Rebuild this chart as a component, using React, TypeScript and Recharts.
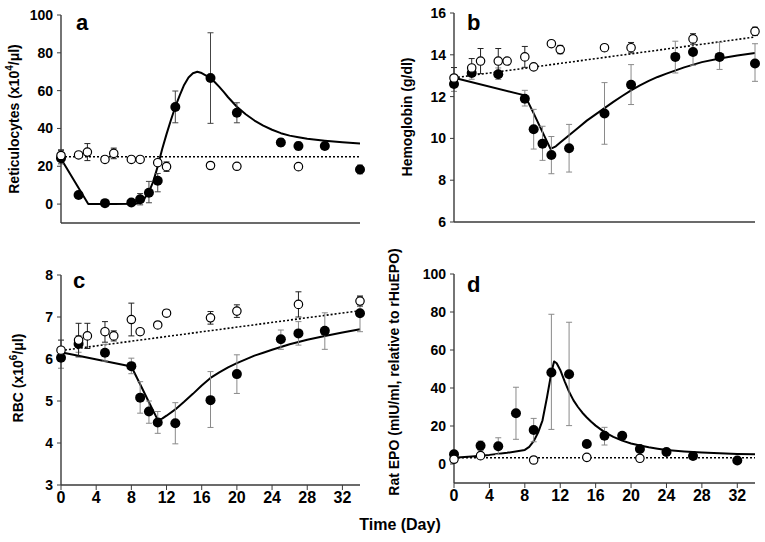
import React from 'react';
import { ComposedChart, Line, Scatter, XAxis, YAxis, ErrorBar } from 'recharts';

const FONT = "'Liberation Sans', Arial, Helvetica, sans-serif";
const DAY_TICKS = [0, 4, 8, 12, 16, 20, 24, 28, 32];

// ---------- Panel a: Reticulocytes ----------
const retTxDays = [0, 2, 5, 8, 9, 10, 11, 13, 17, 20, 25, 27, 30, 34];
const retTxVals = [24.3, 4.8, 0.5, 0.8, 2.6, 6, 12.3, 51.3, 66.7, 48.3, 32.6, 30.7, 30.7, 18.3];
const retTxErr = [[3, 4], [1, 1], [0.5, 0.5], [0.5, 0.5], [3, 3], [5.3, 6], [5.8, 3.9], [8.3, 8.5], [24, 23.9], [5.3, 5.3], [2, 2], [2, 2], [1, 1], [2.3, 2.3]];
const retCtlDays = [0, 2, 3, 5, 6, 8, 9, 11, 12, 17, 20, 27];
const retCtlVals = [25.7, 26, 27.5, 23.6, 26.8, 23.6, 23.6, 21.9, 19.8, 20.4, 20, 19.8];
const retCtlErr = [[2, 3], [1, 1], [4.5, 4.5], [1, 1], [2.8, 2.8], [0.5, 0.5], [0.5, 0.5], [1.5, 1.5], [2.5, 2.5], [0.5, 0.5], [1, 1], [0.5, 0.5]];
const retModelDays = [0, 3.1, 6, 8.5, 9, 9.5, 10, 10.5, 11, 11.5, 12, 12.5, 13, 13.5, 14, 14.5, 15, 15.5, 16, 16.5, 17, 17.5, 18, 18.5, 19, 19.5, 20, 21, 22, 23, 24, 25, 26, 27, 28, 30, 32, 34];
const retModelVals = [24, 0, 0, 0.2, 1, 3, 6.5, 12, 20, 29, 37, 44.5, 51.5, 57.5, 63, 67, 69.2, 70, 69.3, 68, 66.5, 64.4, 62, 59.3, 56.5, 54, 51.5, 47.5, 44.2, 41.5, 39.3, 37.5, 36.2, 35.3, 34.5, 33.5, 32.7, 32.1];
const retCtlLineDays = [0, 34];
const retCtlLineVals = [25, 25];

// ---------- Panel b: Hemoglobin ----------
const hbTxDays = [0, 2, 5, 8, 9, 10, 11, 13, 17, 20, 25, 27, 30, 34];
const hbTxVals = [12.6, 13.13, 13.07, 11.9, 10.44, 9.75, 9.21, 9.53, 11.19, 12.57, 13.9, 14.13, 13.9, 13.58];
const hbTxErr = [[0.35, 0.35], [0.3, 0.35], [0.25, 0.3], [0.35, 0.4], [0.95, 0.95], [0.8, 0.83], [0.9, 0.88], [1.14, 1.14], [1.47, 1.48], [0.95, 0.96], [0.77, 0.75], [0.63, 0.67], [0.6, 0.7], [0.85, 0.95]];
const hbCtlDays = [0, 2, 3, 5, 6, 8, 9, 11, 12, 17, 20, 27, 34];
const hbCtlVals = [12.89, 13.37, 13.7, 13.7, 13.7, 13.9, 13.42, 14.53, 14.25, 14.34, 14.34, 14.76, 15.12];
const hbCtlErr = [[0.3, 0.5], [0.3, 0.45], [0.6, 0.6], [0.6, 0.6], [0.1, 0.1], [0.5, 0.5], [0.1, 0.1], [0.1, 0.1], [0.2, 0.2], [0.15, 0.15], [0.25, 0.25], [0.25, 0.25], [0.2, 0.2]];
const hbModelDays = [0, 8, 9, 10, 10.9, 11.5, 12, 13, 14, 15, 16, 17, 18, 19, 20, 21, 22, 23, 24, 26, 28, 30, 32, 34];
const hbModelVals = [12.9, 12.06, 11.2, 10.3, 9.5, 9.62, 9.8, 10.15, 10.5, 10.85, 11.15, 11.45, 11.75, 12.03, 12.3, 12.54, 12.75, 12.94, 13.1, 13.4, 13.65, 13.82, 13.97, 14.09];
const hbCtlLineDays = [0, 34];
const hbCtlLineVals = [12.9, 14.85];

// ---------- Panel c: RBC ----------
const rbcTxDays = [0, 2, 5, 8, 9, 10, 11, 13, 17, 20, 25, 27, 30, 34];
const rbcTxVals = [6.03, 6.36, 6.15, 5.83, 5.08, 4.75, 4.49, 4.47, 5.02, 5.64, 6.47, 6.61, 6.67, 7.09];
const rbcTxErr = [[0.25, 0.2], [0.2, 0.2], [0.2, 0.2], [0.18, 0.19], [0.37, 0.38], [0.28, 0.25], [0.26, 0.26], [0.49, 0.49], [0.65, 0.68], [0.46, 0.46], [0.24, 0.22], [0.28, 0.28], [0.44, 0.43], [0.44, 0.4]];
const rbcCtlDays = [0, 2, 3, 5, 6, 8, 9, 11, 12, 17, 20, 27, 34];
const rbcCtlVals = [6.21, 6.45, 6.55, 6.65, 6.55, 6.94, 6.65, 6.81, 7.09, 6.98, 7.14, 7.3, 7.38];
const rbcCtlErr = [[0.25, 0.24], [0.4, 0.4], [0.3, 0.3], [0.25, 0.24], [0.12, 0.12], [0.39, 0.39], [0.05, 0.05], [0.05, 0.05], [0.08, 0.08], [0.15, 0.15], [0.15, 0.15], [0.3, 0.3], [0.12, 0.12]];
const rbcModelDays = [0, 8, 9, 10, 11, 11.5, 12, 13, 14, 15, 16, 17, 18, 19, 20, 21, 22, 23, 24, 26, 28, 30, 32, 34];
const rbcModelVals = [6.16, 5.82, 5.4, 4.97, 4.55, 4.58, 4.65, 4.8, 4.98, 5.17, 5.37, 5.55, 5.68, 5.8, 5.9, 5.99, 6.08, 6.15, 6.22, 6.35, 6.46, 6.55, 6.63, 6.71];
const rbcCtlLineDays = [0, 34];
const rbcCtlLineVals = [6.2, 7.15];

// ---------- Panel d: Rat EPO ----------
const epoTxDays = [0, 3, 5, 7, 9, 11, 13, 15, 17, 19, 21, 24, 27, 32];
const epoTxVals = [5.1, 9.6, 9.3, 26.7, 17.9, 48.2, 47.2, 10.5, 14.9, 14.9, 7.9, 6.3, 4.2, 1.8];
const epoTxErr = [[2, 2], [2.5, 2.5], [4.3, 4.5], [13.7, 13.7], [6.2, 6.1], [30, 30.6], [27, 27.4], [1.5, 1.5], [4.9, 4.4], [1.5, 1.5], [1.5, 1.5], [1, 1], [1, 1], [1.5, 1.5]];
const epoCtlDays = [0, 3, 9, 15, 21];
const epoCtlVals = [2.5, 4.4, 2.1, 3.5, 3];
const epoCtlErr = [[1, 1], [1, 1.5], [1, 1], [1, 1], [1, 1]];
const epoModelDays = [0, 2, 4, 6, 8, 8.5, 9, 9.5, 10, 10.5, 11, 11.3, 11.6, 12, 12.5, 13, 13.5, 14, 14.5, 15, 15.5, 16, 17, 18, 19, 20, 21, 22, 23, 24, 26, 28, 30, 32, 34];
const epoModelVals = [3.3, 4, 4.8, 5.9, 7.4, 9, 12, 16.5, 23, 35, 48, 54, 53, 49.5, 43.5, 38, 33.5, 30, 27, 24.5, 22.2, 20.2, 16.8, 14.3, 12.3, 10.8, 9.7, 8.8, 8.05, 7.4, 6.6, 6, 5.6, 5.3, 5.1];
const epoCtlLineDays = [0, 34];
const epoCtlLineVals = [3.3, 3.3];

type Pt = { x: number; y: number; e?: number[] };
const pts = (days: number[], vals: number[], errs?: number[][]): Pt[] =>
  days.map((x, i) => ({ x, y: vals[i], e: errs ? errs[i] : undefined }));

const FilledDot = (p: any) => <circle cx={p.cx} cy={p.cy} r={5} fill="#000" />;
const OpenDot = (p: any) => <circle cx={p.cx} cy={p.cy} r={4.2} fill="#fff" stroke="#000" strokeWidth={1.2} />;

type PanelProps = {
  width: number;
  height: number;
  margin: { top: number; right: number; bottom: number; left: number };
  yWidth: number;
  yDomain: [number, number];
  yTicks: number[];
  showXLabels: boolean;
  tx: Pt[];
  ctl: Pt[];
  model: Pt[];
  ctlLine: Pt[];
  txErrColor: string;
};

function Panel(props: PanelProps) {
  const { width, height, margin, yWidth, yDomain, yTicks, showXLabels, tx, ctl, model, ctlLine, txErrColor } = props;
  return (
    <ComposedChart width={width} height={height} margin={margin}>
      <XAxis
        type="number"
        dataKey="x"
        domain={[0, 34]}
        ticks={DAY_TICKS}
        interval={0}
        height={30}
        axisLine={{ stroke: '#3a3a3a', strokeWidth: 1.4 }}
        tickLine={{ stroke: '#3a3a3a', strokeWidth: 1 }}
        tickSize={5}
        tickMargin={2}
        tick={showXLabels ? { fontSize: 16, fontWeight: 'bold', fill: '#000', fontFamily: FONT } : false}
      />
      <YAxis
        type="number"
        dataKey="y"
        domain={yDomain}
        ticks={yTicks}
        interval={0}
        width={yWidth}
        axisLine={{ stroke: '#3a3a3a', strokeWidth: 1.4 }}
        tickLine={{ stroke: '#3a3a3a', strokeWidth: 1 }}
        tickSize={4}
        tickMargin={4}
        tick={{ fontSize: 14, fontWeight: 'bold', fill: '#000', fontFamily: FONT }}
      />
      <Line
        data={ctlLine}
        dataKey="y"
        type="linear"
        stroke="#000"
        strokeWidth={1.6}
        strokeDasharray="2 2"
        dot={false}
        activeDot={false}
        isAnimationActive={false}
      />
      <Line
        data={model}
        dataKey="y"
        type="linear"
        stroke="#000"
        strokeWidth={2}
        strokeLinejoin="round"
        dot={false}
        activeDot={false}
        isAnimationActive={false}
      />
      <Scatter data={tx} dataKey="y" shape={FilledDot} isAnimationActive={false}>
        <ErrorBar dataKey="e" direction="y" width={3} stroke={txErrColor} strokeWidth={1} />
      </Scatter>
      <Scatter data={ctl} dataKey="y" shape={OpenDot} isAnimationActive={false}>
        <ErrorBar dataKey="e" direction="y" width={3} stroke="#222" strokeWidth={1} />
      </Scatter>
    </ComposedChart>
  );
}

const titleStyle = { fontFamily: FONT, fontWeight: 'bold' as const, fontSize: 14, fill: '#000' };

function YTitle({ cx, cy, children }: { cx: number; cy: number; children: React.ReactNode }) {
  return (
    <text transform={`translate(${cx},${cy}) rotate(-90)`} textAnchor="middle" dy="0.35em" style={titleStyle}>
      {children}
    </text>
  );
}

export default function App() {
  const pos = (left: number, top: number): React.CSSProperties => ({ position: 'absolute', left, top });
  return (
    <div style={{ position: 'absolute', left: 0, top: 0, width: 765, height: 542, background: '#fff', overflow: 'hidden' }}>
      <div style={pos(0, 0)}>
        <Panel
          width={380}
          height={260}
          margin={{ top: 15, right: 20, bottom: 7, left: 0 }}
          yWidth={61}
          yDomain={[-10, 100]}
          yTicks={[0, 20, 40, 60, 80, 100]}
          showXLabels={false}
          tx={pts(retTxDays, retTxVals, retTxErr)}
          ctl={pts(retCtlDays, retCtlVals, retCtlErr)}
          model={pts(retModelDays, retModelVals)}
          ctlLine={pts(retCtlLineDays, retCtlLineVals)}
          txErrColor="#444"
        />
      </div>
      <div style={pos(380, 0)}>
        <Panel
          width={385}
          height={260}
          margin={{ top: 13, right: 10, bottom: 8, left: 0 }}
          yWidth={74}
          yDomain={[6, 16]}
          yTicks={[6, 8, 10, 12, 14, 16]}
          showXLabels={false}
          tx={pts(hbTxDays, hbTxVals, hbTxErr)}
          ctl={pts(hbCtlDays, hbCtlVals, hbCtlErr)}
          model={pts(hbModelDays, hbModelVals)}
          ctlLine={pts(hbCtlLineDays, hbCtlLineVals)}
          txErrColor="#8a8a8a"
        />
      </div>
      <div style={pos(0, 260)}>
        <Panel
          width={380}
          height={282}
          margin={{ top: 15, right: 20, bottom: 27, left: 0 }}
          yWidth={61}
          yDomain={[3, 8]}
          yTicks={[3, 4, 5, 6, 7, 8]}
          showXLabels={true}
          tx={pts(rbcTxDays, rbcTxVals, rbcTxErr)}
          ctl={pts(rbcCtlDays, rbcCtlVals, rbcCtlErr)}
          model={pts(rbcModelDays, rbcModelVals)}
          ctlLine={pts(rbcCtlLineDays, rbcCtlLineVals)}
          txErrColor="#8a8a8a"
        />
      </div>
      <div style={pos(380, 260)}>
        <Panel
          width={385}
          height={282}
          margin={{ top: 14, right: 10, bottom: 29, left: 0 }}
          yWidth={74}
          yDomain={[-10, 100]}
          yTicks={[0, 20, 40, 60, 80, 100]}
          showXLabels={true}
          tx={pts(epoTxDays, epoTxVals, epoTxErr)}
          ctl={pts(epoCtlDays, epoCtlVals, epoCtlErr)}
          model={pts(epoModelDays, epoModelVals)}
          ctlLine={pts(epoCtlLineDays, epoCtlLineVals)}
          txErrColor="#8a8a8a"
        />
      </div>
      <svg width={765} height={542} style={{ position: 'absolute', left: 0, top: 0, pointerEvents: 'none' }}>
        <YTitle cx={14} cy={119}>
          <tspan>Reticulocytes (x10</tspan>
          <tspan dy={-6} fontSize={10}>4</tspan>
          <tspan dy={6}>/μl)</tspan>
        </YTitle>
        <YTitle cx={407} cy={117}>Hemoglobin (g/dl)</YTitle>
        <YTitle cx={18} cy={378}>
          <tspan>RBC (x10</tspan>
          <tspan dy={-6} fontSize={10}>6</tspan>
          <tspan dy={6}>/μl)</tspan>
        </YTitle>
        <YTitle cx={394} cy={372}>Rat EPO (mIU/ml, relative to rHuEPO)</YTitle>
        <g style={{ fontFamily: FONT, fontWeight: 'bold', fontSize: 22, fill: '#000' }}>
          <text x={76} y={30}>a</text>
          <text x={467} y={30}>b</text>
          <text x={73} y={288}>c</text>
          <text x={467} y={292}>d</text>
        </g>
        <text x={400} y={530} textAnchor="middle" style={{ fontFamily: FONT, fontWeight: 'bold', fontSize: 16, fill: '#000' }}>
          Time (Day)
        </text>
      </svg>
    </div>
  );
}
